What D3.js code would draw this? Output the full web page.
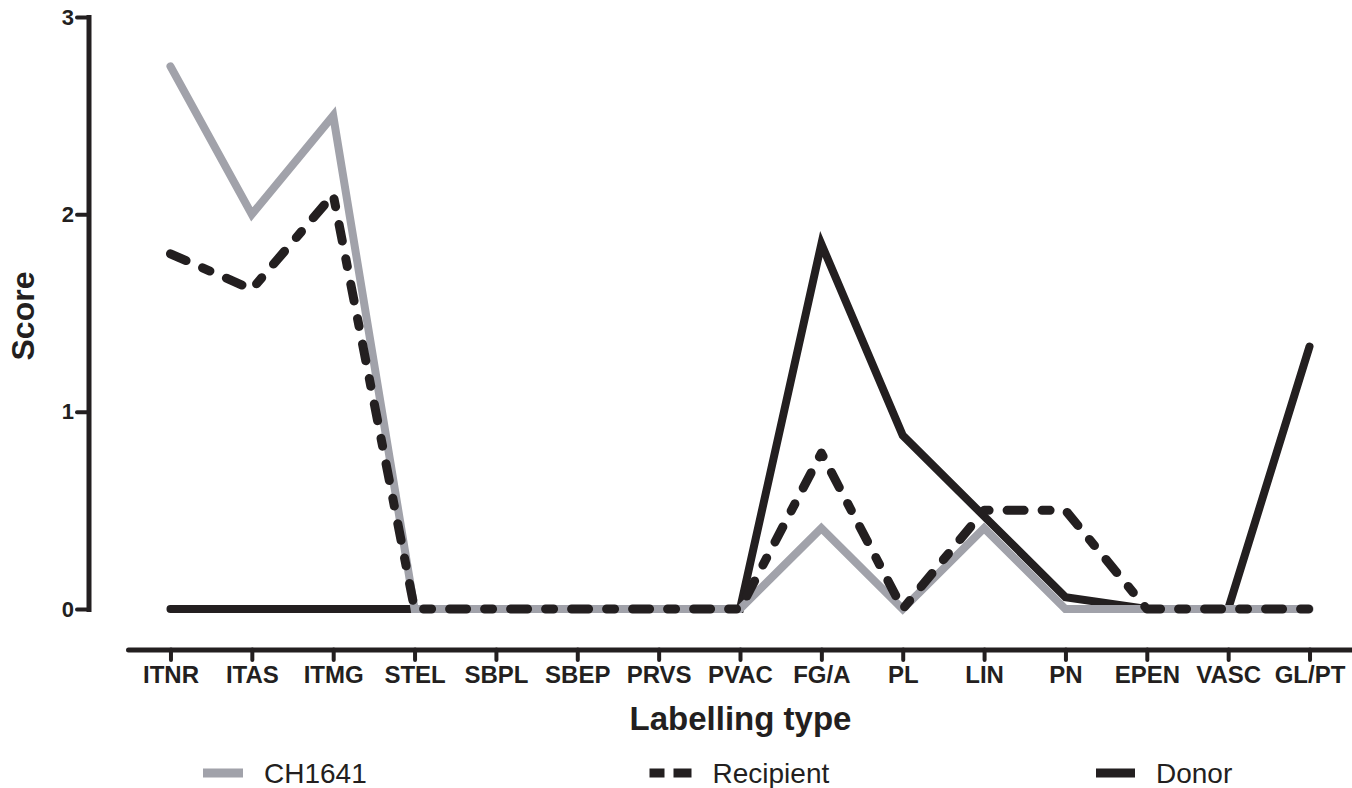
<!DOCTYPE html>
<html>
<head>
<meta charset="utf-8">
<script src="https://cdn.jsdelivr.net/npm/d3@7"></script>
<style>
  html, body { margin: 0; padding: 0; background: #fff; }
  svg { display: block; font-family: "Liberation Sans", Arial, sans-serif; }
</style>
</head>
<body>
<svg id="chart" width="1352" height="788"></svg>
<script>
const categories = ["ITNR","ITAS","ITMG","STEL","SBPL","SBEP","PRVS","PVAC","FG/A","PL","LIN","PN","EPEN","VASC","GL/PT"];
const ch1641    = [2.75, 2.0, 2.5, 0, 0, 0, 0, 0, 0.41, 0, 0.41, 0, 0, 0, 0];
const recipient = [1.8, 1.62, 2.1, 0, 0, 0, 0, 0, 0.79, 0, 0.5, 0.5, 0, 0, 0];
const donor     = [0, 0, 0, 0, 0, 0, 0, 0, 1.85, 0.88, 0.47, 0.06, 0, 0, 1.33];
const yTicks = [0, 1, 2, 3];
const seriesNames = ["CH1641", "Recipient", "Donor"];

const ink = "#231f20";
const grey = "#a1a2aa";

const svg = d3.select("#chart");

const x = d3.scalePoint().domain(categories).range([128, 1352]).padding(0.522);
const y = d3.scaleLinear().domain([0, 3]).range([609, 17]);

// Y axis
const yAxis = svg.append("g")
  .attr("transform", "translate(88.5,0)")
  .call(d3.axisLeft(y).tickValues(yTicks).tickFormat(d3.format("d")).tickSize(11.5).tickSizeOuter(0).tickPadding(3));
yAxis.select(".domain").attr("stroke", ink).attr("stroke-width", 5).attr("stroke-linecap", "square");
yAxis.selectAll(".tick line").attr("stroke", ink).attr("stroke-width", 4).attr("stroke-linecap", "round");
yAxis.selectAll(".tick text").attr("fill", ink).attr("font-size", 22).attr("font-weight", "bold")
  .attr("font-family", "'Liberation Sans', Arial, sans-serif");

// X axis
const xAxis = svg.append("g")
  .attr("transform", "translate(0,649.5)")
  .call(d3.axisBottom(x).tickSize(10.5).tickSizeOuter(0).tickPadding(6));
xAxis.select(".domain").attr("stroke", ink).attr("stroke-width", 5).attr("stroke-linecap", "round");
xAxis.selectAll(".tick line").attr("stroke", ink).attr("stroke-width", 4).attr("stroke-linecap", "round");
xAxis.selectAll(".tick text").attr("fill", ink).attr("font-size", 24).attr("font-weight", "bold")
  .attr("font-family", "'Liberation Sans', Arial, sans-serif");

// Axis titles
svg.append("text")
  .attr("x", 740.5).attr("y", 730)
  .attr("text-anchor", "middle")
  .attr("font-size", 33).attr("font-weight", "bold").attr("fill", ink)
  .text("Labelling type");

svg.append("text")
  .attr("transform", "translate(34,316) rotate(-90)")
  .attr("text-anchor", "middle")
  .attr("font-size", 32).attr("font-weight", "bold").attr("fill", ink)
  .text("Score");

// Lines
const line = d3.line()
  .x((d, i) => x(categories[i]))
  .y(d => y(d));

const plot = svg.append("g");

plot.append("path")
  .datum(donor)
  .attr("d", line)
  .attr("fill", "none")
  .attr("stroke", ink)
  .attr("stroke-width", 8)
  .attr("stroke-linejoin", "miter")
  .attr("stroke-linecap", "round");

plot.append("path")
  .datum(ch1641)
  .attr("d", line)
  .attr("fill", "none")
  .attr("stroke", grey)
  .attr("stroke-width", 8)
  .attr("stroke-linejoin", "miter")
  .attr("stroke-linecap", "round");

plot.append("path")
  .datum(recipient)
  .attr("d", line)
  .attr("fill", "none")
  .attr("stroke", ink)
  .attr("stroke-width", 9)
  .attr("stroke-linejoin", "round")
  .attr("stroke-linecap", "round")
  .attr("stroke-dasharray", "17 18 8 18");

// Legend
const legendX = d3.scalePoint().domain(seriesNames).range([203, 1096]);
const legend = svg.append("g");
const styles = {
  "CH1641": { color: grey, dash: null, len: 40 },
  "Recipient": { color: ink, dash: "15 9 18", len: 42 },
  "Donor": { color: ink, dash: null, len: 39 }
};
seriesNames.forEach(name => {
  const sx = legendX(name);
  const st = styles[name];
  const l = legend.append("line")
    .attr("x1", sx).attr("x2", sx + st.len)
    .attr("y1", 773).attr("y2", 773)
    .attr("stroke", st.color)
    .attr("stroke-width", 9);
  if (st.dash) l.attr("stroke-dasharray", st.dash);
  legend.append("text")
    .attr("x", sx + st.len + 21)
    .attr("y", 783)
    .attr("font-size", 28)
    .attr("fill", ink)
    .text(name);
});
</script>
</body>
</html>
